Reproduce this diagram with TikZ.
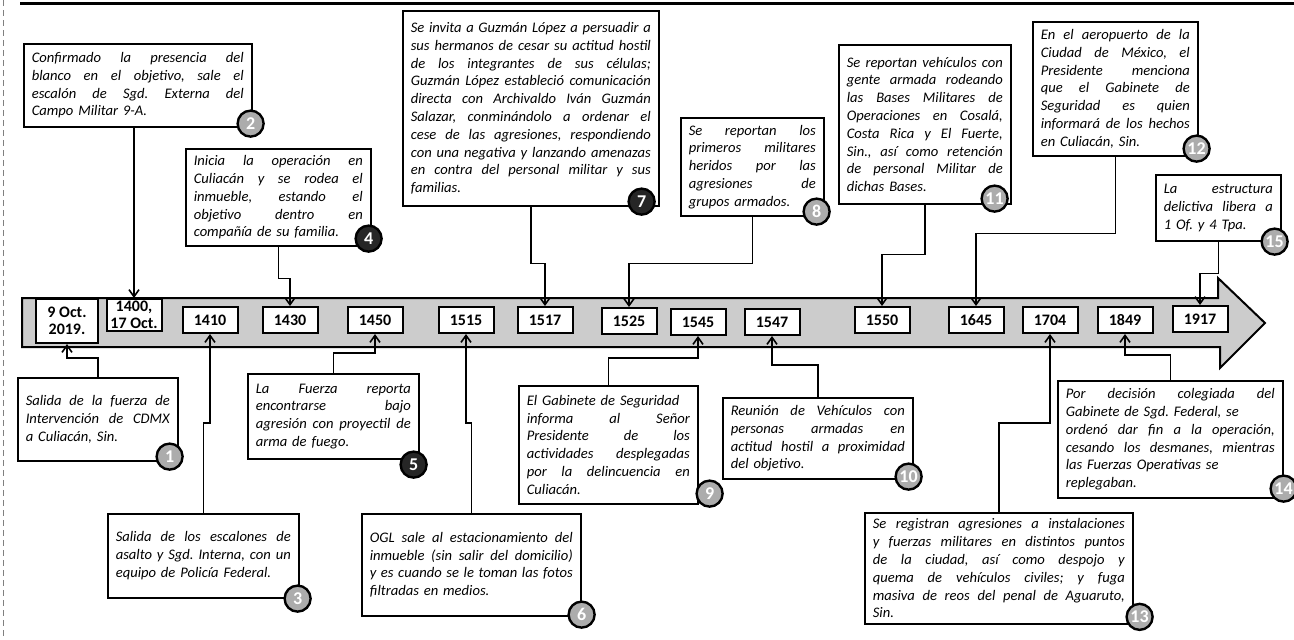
\documentclass[tikz,border=0pt]{standalone}
\usepackage{fontspec}
\setmainfont{Carlito}
\usetikzlibrary{arrows.meta}
\frenchspacing
% one justified line of a note
\def\jl#1{\leavevmode\hbox to \hsize{\spaceskip=0.25em plus 1fil\relax #1}\\}

\begin{document}
\begin{tikzpicture}[x=0.5pt, y=-0.5pt,
    note/.style={draw, line width=0.8pt, fill=white, anchor=north west,
        inner xsep=4pt, inner ysep=3pt, align=left,
        font=\fontsize{7.3}{8.9}\selectfont\itshape},
    date/.style={draw, line width=1pt, fill=white, inner sep=1pt,
        minimum width=27.5pt, minimum height=13pt, align=center,
        font=\fontsize{8}{8.4}\selectfont\bfseries},
    num/.style={circle, draw, line width=1.2pt, fill=gray!65, text=white,
        inner sep=0pt, minimum size=13pt, font=\fontsize{9}{9}\selectfont\bfseries},
    numdark/.style={num, fill=black!85},
    link/.style={line width=0.8pt, -{Straight Barb[length=3.5pt,width=5pt]}},
    band/.style={draw, line width=1pt, fill=gray!40}]

    \useasboundingbox (0,0) rectangle (1294,639);

    % page border
    \draw[line width=1.5pt] (20,3) -- (1294,3);
    \draw[gray, densely dashed] (3,0) -- (3,639);

    % time arrow
    \draw[band] (22,298) -- (1218,298) -- (1218,278) -- (1265,323)
        -- (1220,368) -- (1220,347) -- (22,347) -- cycle;

    % dates
    \node[date, minimum width=31pt, minimum height=22pt] (d1) at (67,321) {9 Oct.\\2019.};
    \node[date, minimum height=16pt] (d2) at (134,315) {1400,\\17 Oct.};
    \foreach \name/\x/\y/\txt in {
        d3/210/320/1410, d4/290/320/1430, d5/375/320/1450,
        d6/466/320/1515, d7/545/320/1517, d8/629/321/1525,
        d9/698/322/1545, d10/772/322/1547, d11/882/320/1550,
        d12/976/320/1645, d13/1050/320/1704, d14/1125/320/1849,
        d15/1200/319/1917}
    {
        \node[date] (\name) at (\x,\y) {\txt};
    }

    % notes above the arrow
    \node[note, text width=106pt, minimum height=41.5pt] (b2) at (23,43)
        {\jl{Confirmado la presencia del}\jl{blanco en el objetivo, sale el}%
         \jl{escalón de Sgd. Externa del}Campo Militar 9-A.};
    \node[note, text width=84.5pt, minimum height=48.5pt] (b4) at (185,148)
        {\jl{Inicia la operación en}\jl{Culiacán y se rodea el}%
         \jl{inmueble, estando el}\jl{objetivo dentro en}compañía de su familia.};
    \node[note, text width=120pt, minimum height=97.5pt] (b7) at (402,10)
        {\jl{Se invita a Guzmán López a persuadir a}%
         \jl{sus hermanos de cesar su actitud hostil}%
         \jl{de los integrantes de sus células;}%
         \jl{Guzmán López estableció comunicación}%
         \jl{directa con Archivaldo Iván Guzmán}%
         \jl{Salazar, conminándolo a ordenar el}%
         \jl{cese de las agresiones, respondiendo}%
         \jl{con una negativa y lanzando amenazas}%
         \jl{en contra del personal militar y sus}familias.};
    \node[note, text width=63.5pt, minimum height=49pt] (b8) at (680,117)
        {\jl{Se reportan los}\jl{primeros militares}\jl{heridos por las}%
         \jl{agresiones de}grupos armados.};
    \node[note, text width=78pt, minimum height=79.5pt] (b11) at (838,44)
        {\jl{Se reportan vehículos con}\jl{gente armada rodeando}%
         \jl{las Bases Militares de}\jl{Operaciones en Cosalá,}%
         \jl{Costa Rica y El Fuerte,}\jl{Sin., así como retención}%
         \jl{de personal Militar de}dichas Bases.};
    \node[note, text width=74.5pt, minimum height=67pt] (b12) at (1032,21)
        {\jl{En el aeropuerto de la}\jl{Ciudad de México, el}%
         \jl{Presidente menciona}\jl{que el Gabinete de}%
         \jl{Seguridad es quien}\jl{informará de los hechos}en Culiacán, Sin.};
    \node[note, text width=54.5pt, minimum height=33pt] (b15) at (1155,174)
        {\jl{La estructura}\jl{delictiva libera a}1 Of. y 4 Tpa.};

    % notes below the arrow
    \node[note, text width=72pt, minimum height=41.5pt] (b1) at (17,377)
        {\jl{Salida de la fuerza de}\jl{Intervención de CDMX}a Culiacán, Sin.};
    \node[note, text width=87.5pt, minimum height=42pt] (b3) at (107,513)
        {\jl{Salida de los escalones de}\jl{asalto y Sgd. Interna, con un}%
         equipo de Policía Federal.};
    \node[note, text width=77.5pt, minimum height=42.5pt] (b5) at (247,373)
        {\jl{La Fuerza reporta}\jl{encontrarse bajo}%
         \jl{agresión con proyectil de}arma de fuego.};
    \node[note, text width=101.5pt, minimum height=51pt] (b6) at (361,513)
        {\jl{OGL sale al estacionamiento del}\jl{inmueble (sin salir del domicilio)}%
         \jl{y es cuando se le toman las fotos}filtradas en medios.};
    \node[note, text width=81.5pt, minimum height=59pt] (b9) at (518,385)
        {El Gabinete de Seguridad\\\jl{informa al Señor}\jl{Presidente de los}%
         \jl{actividades desplegadas}\jl{por la delincuencia en}Culiacán.};
    \node[note, text width=87pt, minimum height=40.5pt] (b10) at (722,397)
        {\jl{Reunión de Vehículos con}\jl{personas armadas en}%
         \jl{actitud hostil a proximidad}del objetivo.};
    \node[note, text width=126pt, minimum height=51.5pt] (b13) at (864,512)
        {\jl{Se registran agresiones a instalaciones}%
         \jl{y fuerzas militares en distintos puntos}%
         \jl{de la ciudad, así como despojo y}%
         \jl{quema de vehículos civiles; y fuga}%
         \jl{masiva de reos del penal de Aguaruto,}Sin.};
    \node[note, text width=104.5pt, minimum height=58.5pt] (b14) at (1057,380)
        {\jl{Por decisión colegiada del}Gabinete de Sgd. Federal, se\\%
         \jl{ordenó dar fin a la operación,}\jl{cesando los desmanes, mientras}%
         las Fuerzas Operativas se\\replegaban.};

    % connectors from above
    \draw[link] (d2.north |- b2.south) -- (d2.north);
    \foreach \bx/\d/\h in {b4/d4/32, b7/d7/57, b8/d8/47, b11/d11/50, b12/d12/77, b15/d15/32}
        \draw[link] (\bx.south) -- ++(0,\h) -| (\d.north);

    % connectors from below
    \foreach \bx/\d/\h in {b1/d1/19, b3/d3/90, b5/d5/20, b6/d6/90, b9/d9/27,
        b10/d10/32, b13/d13/89, b14/d14/25}
        \draw[link] (\bx.north) -- ++(0,-\h) -| (\d.south);

    % numbers
    \foreach \bx/\dx/\dy/\nr/\st in {
        b1/-9/-5/1/num, b2/-2/-4/2/num, b3/-2/0/3/num, b4/-3/-8/4/numdark,
        b5/-6/5/5/numdark, b6/0/-2/6/num, b7/-18/-5/7/numdark, b8/-8/-5/8/num,
        b9/11/-11/9/num, b10/-5/-3/10/num, b11/-17/-6/11/num, b12/-2/-8/12/num,
        b13/6/-8/13/num, b14/0/-10/14/num, b15/-7/0/15/num}
    {
        \node[\st] (n\nr) at ([shift={(\dx,\dy)}]\bx.south east) {\nr};
    }
\end{tikzpicture}
\end{document}
